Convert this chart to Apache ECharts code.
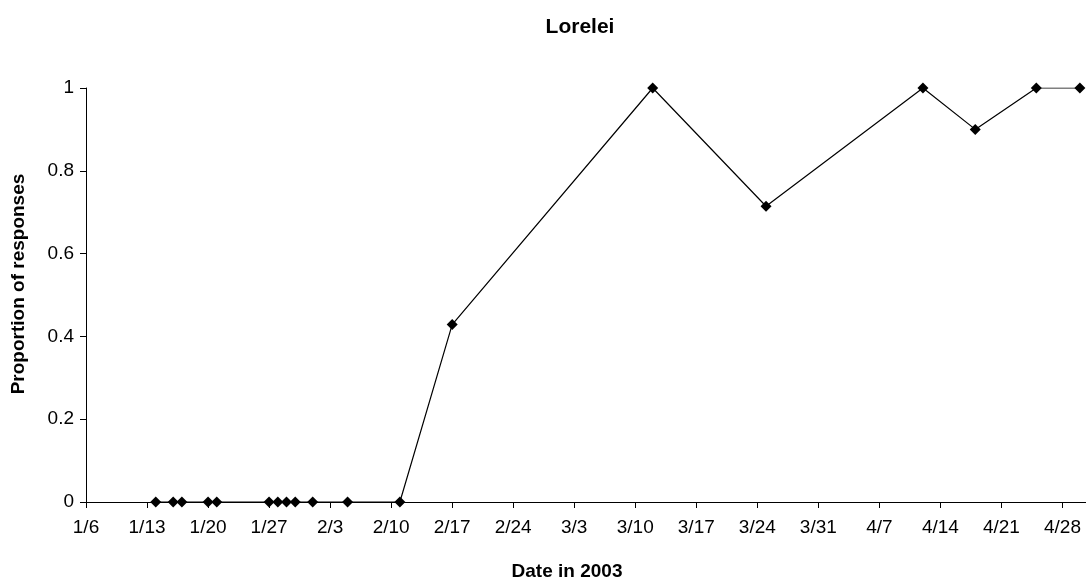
<!DOCTYPE html>
<html>
<head>
<meta charset="utf-8">
<script src="https://cdn.jsdelivr.net/npm/echarts@6/dist/echarts.min.js"></script>
<style>
  html, body { margin: 0; padding: 0; background: #fff; }
  #chart { width: 1086px; height: 581px; }
</style>
</head>
<body>
<div id="chart"></div>
<script>
// Survey dates (2003) and the proportion of responses on each date
const dates = ['2003-01-14', '2003-01-16', '2003-01-17', '2003-01-20', '2003-01-21',
               '2003-01-27', '2003-01-28', '2003-01-29', '2003-01-30', '2003-02-01',
               '2003-02-05', '2003-02-11', '2003-02-17', '2003-03-12', '2003-03-25',
               '2003-04-12', '2003-04-18', '2003-04-25', '2003-04-30'];
const proportions = [0, 0, 0, 0, 0,
                     0, 0, 0, 0, 0,
                     0, 0, 0.4286, 1, 0.7143,
                     1, 0.9, 1, 1];
const yTicks = [0, 0.2, 0.4, 0.6, 0.8, 1];

// The x axis counts days from the first weekly tick (Monday 1/6)
const origin = Date.UTC(2003, 0, 6);
const DAY = 86400000;
function dayOffset(s) {
  const [y, m, d] = s.split('-').map(Number);
  return Math.round((Date.UTC(y, m - 1, d) - origin) / DAY);
}
function dayLabel(v) {
  const t = new Date(origin + v * DAY);
  return (t.getUTCMonth() + 1) + '/' + t.getUTCDate();
}

const points = dates.map((s, i) => [dayOffset(s), proportions[i]]);

const font = 'Liberation Sans, Arial, sans-serif';
const chart = echarts.init(document.getElementById('chart'), null, { renderer: 'canvas' });
chart.setOption({
  animation: false,
  backgroundColor: '#ffffff',
  title: {
    text: 'Lorelei',
    left: 575,
    top: 12,
    textAlign: 'center',
    textStyle: { fontFamily: font, fontWeight: 'bold', fontSize: 21, color: '#000' }
  },
  grid: { left: 86, right: 0, top: 88, bottom: 79, containLabel: false },
  xAxis: {
    type: 'value',
    min: 0,
    max: 114.7,
    interval: 7,
    axisLine: { lineStyle: { color: '#000', width: 1 } },
    axisTick: { show: true, length: 6, lineStyle: { color: '#000' } },
    axisLabel: {
      color: '#000', fontFamily: font, fontSize: 19, margin: 16,
      showMaxLabel: false,
      formatter: dayLabel
    },
    splitLine: { show: false }
  },
  yAxis: {
    type: 'value',
    min: 0,
    max: 1,
    interval: 0.2,
    axisLine: { show: true, lineStyle: { color: '#000', width: 1 } },
    axisTick: { show: true, length: 6, lineStyle: { color: '#000' } },
    axisLabel: {
      color: '#000', fontFamily: font, fontSize: 19, margin: 12,
      formatter: v => {
        const t = yTicks.find(k => Math.abs(k - v) < 1e-9);
        return t === undefined ? '' : String(t);
      }
    },
    splitLine: { show: false }
  },
  graphic: [
    {
      type: 'text',
      x: 567, y: 572,
      style: {
        text: 'Date in 2003', fontFamily: font, fontWeight: 'bold', fontSize: 19,
        fill: '#000', textAlign: 'center', textVerticalAlign: 'middle'
      }
    },
    {
      type: 'text',
      x: 19, y: 284,
      rotation: Math.PI / 2,
      style: {
        text: 'Proportion of responses', fontFamily: font, fontWeight: 'bold', fontSize: 19,
        fill: '#000', textAlign: 'center', textVerticalAlign: 'middle'
      }
    }
  ],
  series: [{
    type: 'line',
    data: points,
    symbol: 'diamond',
    symbolSize: 11,
    showAllSymbol: true,
    itemStyle: { color: '#000' },
    lineStyle: { color: '#000', width: 1.2 }
  }]
});
</script>
</body>
</html>
